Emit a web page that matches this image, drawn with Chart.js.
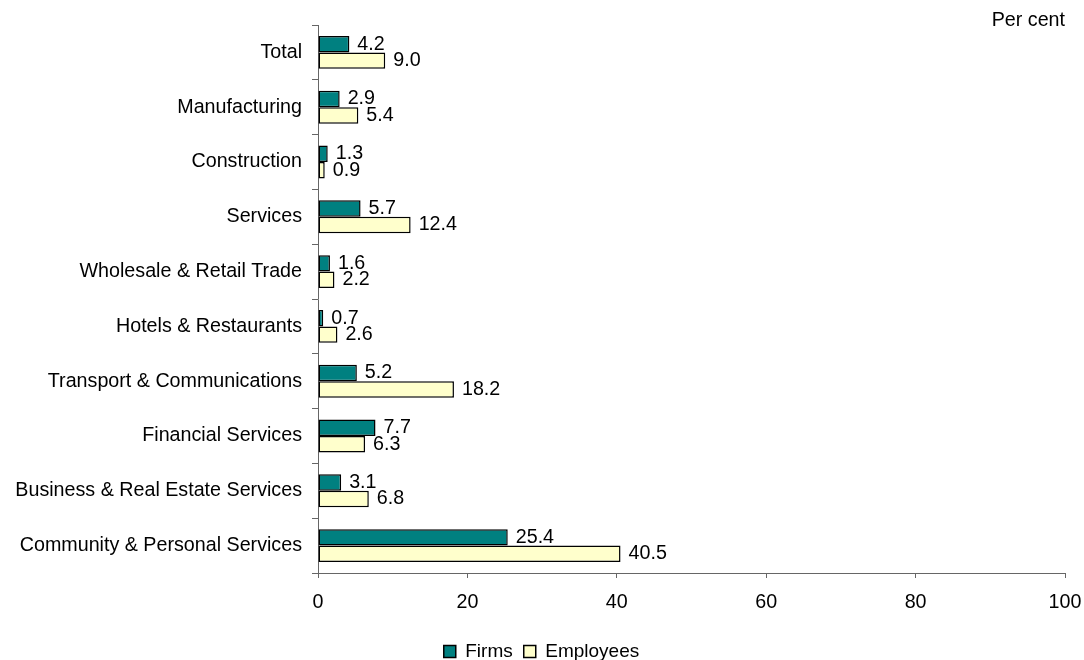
<!DOCTYPE html>
<html>
<head>
<meta charset="utf-8">
<title>Firms and Employees by Sector</title>
<script src="https://cdn.jsdelivr.net/npm/chart.js@4.4.1/dist/chart.umd.min.js"></script>
<style>
  html, body { margin: 0; padding: 0; background: #fff; }
  #wrap { width: 1084px; height: 660px; position: relative; }
</style>
</head>
<body>
<div id="wrap"><canvas id="sectorChart"></canvas></div>
<script>
  // sectors, top to bottom
  const sectors = [
    "Total",
    "Manufacturing",
    "Construction",
    "Services",
    "Wholesale & Retail Trade",
    "Hotels & Restaurants",
    "Transport & Communications",
    "Financial Services",
    "Business & Real Estate Services",
    "Community & Personal Services"
  ];
  const firms = [4.2, 2.9, 1.3, 5.7, 1.6, 0.7, 5.2, 7.7, 3.1, 25.4];
  const employees = [9.0, 5.4, 0.9, 12.4, 2.2, 2.6, 18.2, 6.3, 6.8, 40.5];
  const xTicks = [0, 20, 40, 60, 80, 100];
  const unitLabel = "Per cent";

  const FONT = '"Liberation Sans", Arial, sans-serif';
  const FONT_SIZE = 19.7;

  // number next to the end of each bar
  const valueLabels = {
    id: "valueLabels",
    afterDatasetsDraw(chart) {
      const ctx = chart.ctx;
      ctx.save();
      ctx.font = FONT_SIZE + "px " + FONT;
      ctx.fillStyle = "#000";
      ctx.textBaseline = "middle";
      ctx.textAlign = "left";
      chart.data.datasets.forEach((ds, i) => {
        chart.getDatasetMeta(i).data.forEach((bar, j) => {
          ctx.fillText(ds.data[j].toFixed(1), bar.x + 8, bar.y);
        });
      });
      ctx.restore();
    }
  };

  // "Per cent" caption above the right end of the x axis
  const unitCaption = {
    id: "unitCaption",
    afterDraw(chart) {
      const ctx = chart.ctx;
      ctx.save();
      ctx.font = FONT_SIZE + "px " + FONT;
      ctx.fillStyle = "#000";
      ctx.textAlign = "right";
      ctx.textBaseline = "middle";
      ctx.fillText(unitLabel, chart.chartArea.right, 21);
      ctx.restore();
    }
  };

  // centre the legend on the whole canvas rather than the padded box
  const legendCentre = {
    id: "legendCentre",
    afterLayout(chart) {
      if (chart.legend) chart.legend.left += 18;
    }
  };

  const ctx = document.getElementById("sectorChart").getContext("2d");
  new Chart(ctx, {
    type: "bar",
    data: {
      labels: sectors,
      datasets: [
        {
          label: "Firms",
          data: firms,
          backgroundColor: "#008080",
          borderColor: "#000",
          borderWidth: 1.5,
          borderSkipped: false
        },
        {
          label: "Employees",
          data: employees,
          backgroundColor: "#ffffcc",
          borderColor: "#000",
          borderWidth: 1.5,
          borderSkipped: false
        }
      ]
    },
    options: {
      indexAxis: "y",
      responsive: true,
      maintainAspectRatio: false,
      animation: false,
      datasets: {
        bar: { categoryPercentage: 0.6, barPercentage: 1.0 }
      },
      layout: { padding: { top: 25, right: 19, left: 0, bottom: -11 } },
      plugins: {
        legend: {
          position: "bottom",
          labels: {
            color: "#000",
            font: { family: FONT, size: 19 },
            boxWidth: 12,
            boxHeight: 12,
            padding: 11
          }
        },
        tooltip: { enabled: false }
      },
      scales: {
        x: {
          min: 0,
          max: 100,
          afterBuildTicks: (axis) => {
            axis.ticks = xTicks.map((v) => ({ value: v }));
          },
          afterFit: (axis) => {
            axis.height = 58;
            axis.paddingRight = 0;
            axis.paddingLeft = 0;
          },
          border: { display: true, color: "#666", width: 1 },
          grid: {
            drawOnChartArea: false,
            drawTicks: true,
            tickLength: 5,
            color: "#666"
          },
          ticks: {
            color: "#000",
            font: { family: FONT, size: FONT_SIZE },
            padding: 13,
            maxRotation: 0
          }
        },
        y: {
          afterFit: (axis) => {
            axis.width = 318;
          },
          border: { display: true, color: "#666", width: 1 },
          grid: {
            offset: true,
            drawOnChartArea: false,
            drawTicks: true,
            tickLength: 6,
            color: "#666"
          },
          ticks: {
            color: "#000",
            font: { family: FONT, size: FONT_SIZE },
            padding: 10,
            autoSkip: false
          }
        }
      }
    },
    plugins: [valueLabels, unitCaption, legendCentre]
  });
</script>
</body>
</html>
